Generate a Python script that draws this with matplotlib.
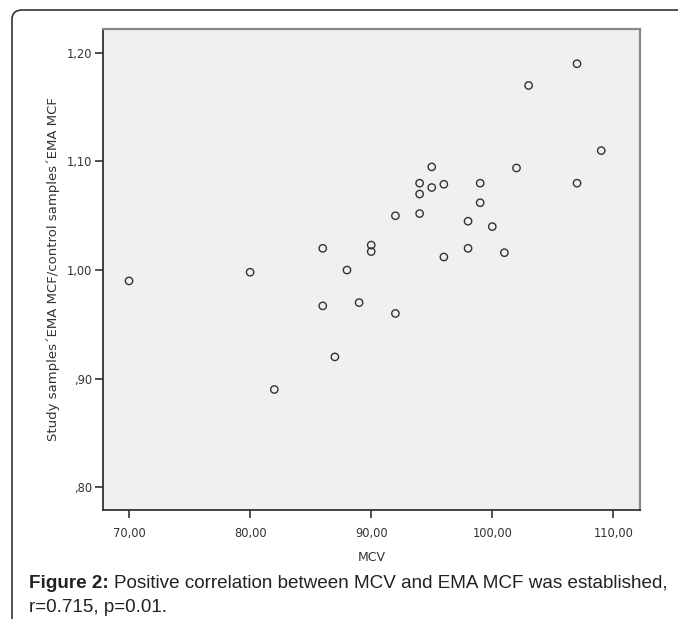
import matplotlib.pyplot as plt
from matplotlib.patches import FancyBboxPatch

# MCV vs ratio of EMA MCF (study / control)
mcv = [70, 80, 86, 86, 87, 82, 107, 103, 109, 95, 102, 94, 95, 96, 99, 107,
       94, 99, 92, 94, 98, 100, 90, 90, 98, 101, 96, 88, 89, 92]
ema_ratio = [0.990, 0.998, 1.020, 0.967, 0.920, 0.890, 1.190, 1.170, 1.110,
             1.095, 1.094, 1.080, 1.076, 1.079, 1.080, 1.080, 1.070, 1.062,
             1.050, 1.052, 1.045, 1.040, 1.023, 1.017, 1.020, 1.016, 1.012,
             1.000, 0.970, 0.960]

x_ticks = [70, 80, 90, 100, 110]
x_labels = ["70,00", "80,00", "90,00", "100,00", "110,00"]
y_ticks = [0.80, 0.90, 1.00, 1.10, 1.20]
y_labels = [",80", ",90", "1,00", "1,10", "1,20"]

W, H = 678, 619
fig = plt.figure(figsize=(W / 100, H / 100), dpi=100)

# outer rounded frame (runs off right and bottom edge)
frame = FancyBboxPatch((12 / W, -0.2), 1.2, 1 - 10 / H + 0.2,
                       boxstyle="round,pad=0,rounding_size=0.015",
                       transform=fig.transFigure, fill=False,
                       edgecolor="#333333", linewidth=1.2, clip_on=False)
fig.patches.append(frame)

ax = fig.add_axes([103 / W, 1 - 510 / H, 537 / W, 481 / H])
ax.set_facecolor("#f0f0f0")
ax.scatter(mcv, ema_ratio, s=28, facecolors="none", edgecolors="#333333",
           linewidths=1.0, zorder=3)

ax.set_xlim(67.85, 112.2)
ax.set_ylim(0.779, 1.222)
ax.set_xticks(x_ticks)
ax.set_xticklabels(x_labels)
ax.set_yticks(y_ticks)
ax.set_yticklabels(y_labels)
ax.tick_params(direction="out", length=6, width=1.2, color="#333333",
               labelsize=8.3, labelcolor="#333333", pad=2)
ax.tick_params(axis="x", pad=6)

for side in ["left", "bottom"]:
    ax.spines[side].set_color("#333333")
    ax.spines[side].set_linewidth(1.3)
for side in ["top", "right"]:
    ax.spines[side].set_color("#888888")
    ax.spines[side].set_linewidth(1.6)

ax.set_xlabel("MCV", fontsize=9, color="#333333", labelpad=8)
ax.set_ylabel("Study samples\u00b4EMA MCF/control samples\u00b4EMA MCF",
              fontsize=9.5, color="#333333", labelpad=6)
ax.yaxis.set_label_coords(-(103 - 60) / 537, 0.5)

# caption
cap = dict(fontsize=13.6, family="Liberation Sans", color="#222222",
           transform=fig.transFigure, va="center")
t = fig.text(29 / W, 1 - 583 / H, "Figure 2:", weight="bold", **cap)
fig.canvas.draw()
bb = t.get_window_extent()
fig.text((bb.x1 + 5) / W, 1 - 583 / H,
         "Positive correlation between MCV and EMA MCF was established,", **cap)
fig.text(29 / W, 1 - 607 / H, "r=0.715, p=0.01.", **cap)

fig.savefig("out.png", dpi=100)
